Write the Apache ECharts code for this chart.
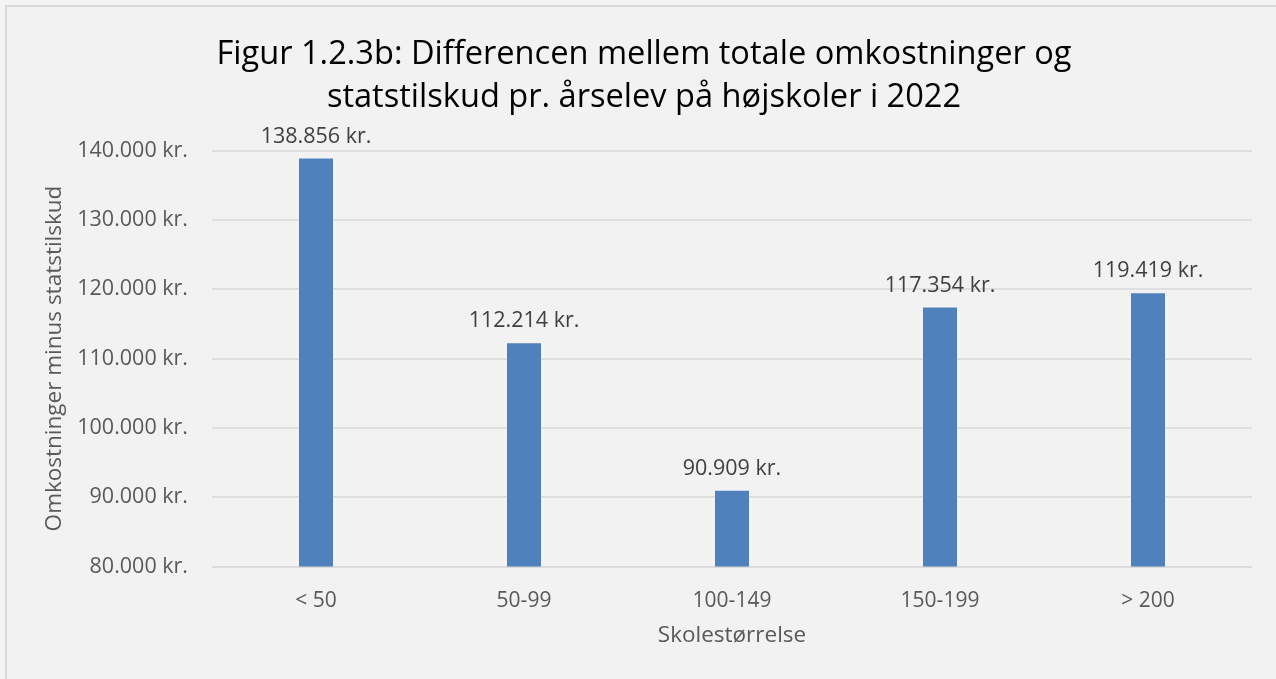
<!DOCTYPE html>
<html>
<head>
<meta charset="utf-8">
<script src="https://cdn.jsdelivr.net/npm/echarts@6/dist/echarts.min.js"></script>
<style>
  html, body { margin: 0; padding: 0; background: #f4f4f4; overflow: hidden; }
  #frame { position: absolute; left: 5px; top: 5px; width: 1300px; height: 720px;
           border: 2px solid #d9d9d9; background: #f2f2f2; }
  #chart { position: fixed; left: 0; top: 0; width: 1276px; height: 679px; }
</style>
</head>
<body>
<div id="frame"></div>
<div id="chart"></div>
<script>
// Skolestørrelse (antal årselever)
const categories = ['< 50', '50-99', '100-149', '150-199', '> 200'];
// Omkostninger minus statstilskud pr. årselev, kr.
const values = [138856, 112214, 90909, 117354, 119419];
const yMin = 80000;
const yMax = 140000;
const yStep = 10000;

const font = '"Open Sans", "Noto Sans", sans-serif';
const fmtKr = v => Math.round(v).toString().replace(/\B(?=(\d{3})+(?!\d))/g, '.') + ' kr.';

const chart = echarts.init(document.getElementById('chart'));

chart.setOption({
  animation: false,
  textStyle: { fontFamily: font },
  title: {
    text: 'Figur 1.2.3b: Differencen mellem totale omkostninger og\nstatstilskud pr. årselev på højskoler i 2022',
    left: 639,
    top: 28,
    textAlign: 'center',
    textStyle: { fontFamily: font, fontSize: 32.6, fontWeight: 'normal', color: '#000', lineHeight: 43 }
  },
  grid: { left: 212, right: 24, top: 150.5, bottom: 112.5, containLabel: false },
  xAxis: {
    type: 'category',
    data: categories,
    name: 'Skolestørrelse',
    nameLocation: 'middle',
    nameGap: 58,
    nameTextStyle: { fontSize: 22.5, color: '#595959', fontFamily: font },
    axisLine: { lineStyle: { color: '#d9d9d9', width: 1.5 } },
    axisTick: { show: false },
    axisLabel: { fontSize: 21, color: '#595959', margin: 24 }
  },
  yAxis: {
    type: 'value',
    min: yMin,
    max: yMax,
    interval: yStep,
    name: 'Omkostninger minus statstilskud',
    nameLocation: 'middle',
    nameGap: 145,
    nameTextStyle: { fontSize: 22.5, color: '#595959', fontFamily: font },
    axisLine: { show: false },
    axisTick: { show: false },
    axisLabel: { fontSize: 21.5, color: '#595959', margin: 24, formatter: fmtKr },
    splitLine: { lineStyle: { color: '#d9d9d9', width: 1.5 } }
  },
  series: [{
    type: 'bar',
    data: values,
    barWidth: 34,
    itemStyle: { color: '#4f81bd' },
    label: {
      show: true,
      position: 'top',
      distance: 11,
      fontSize: 21.5,
      color: '#404040',
      formatter: p => fmtKr(p.value)
    }
  }]
});
</script>
</body>
</html>
